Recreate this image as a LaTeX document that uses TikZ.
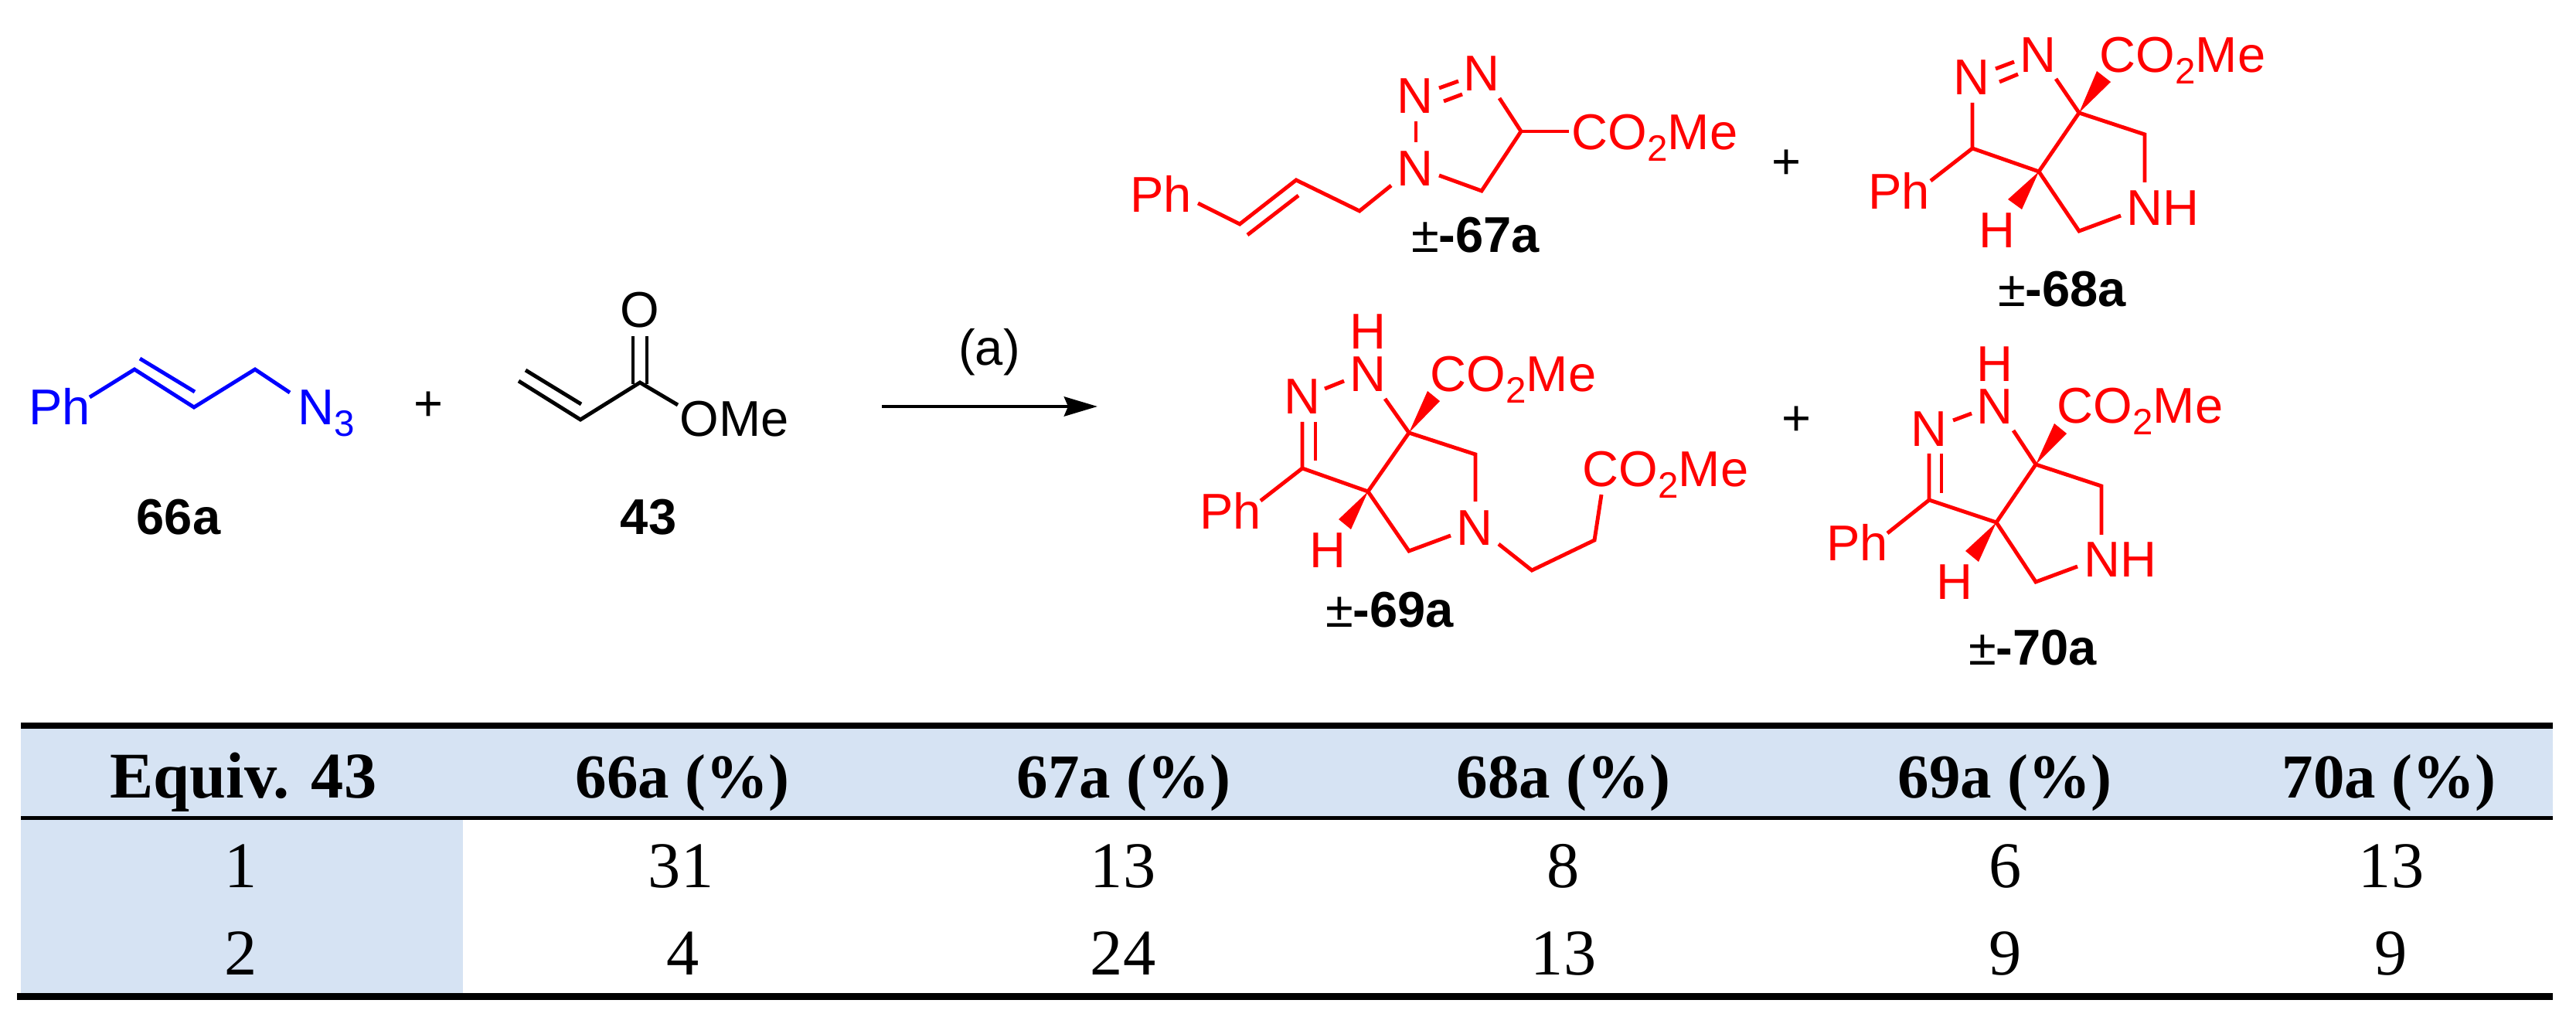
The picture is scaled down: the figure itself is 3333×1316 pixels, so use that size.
\documentclass[tikz,border=0pt]{standalone}
\usepackage{fontspec}
\setmainfont{Liberation Sans}
\newfontfamily\tablefont{Liberation Serif}
\usepackage{tikz}
\usetikzlibrary{arrows.meta}
\definecolor{azide}{RGB}{0, 0, 255}
\definecolor{product}{RGB}{255, 0, 0}
\definecolor{header}{RGB}{214, 227, 243}
\newcommand{\subnum}[1]{\raisebox{-4pt}{\fontsize{13.5}{14}\selectfont #1}}
\tikzset{
    atom/.style={inner sep=0pt, anchor=base, font=\fontsize{18.5}{20}\selectfont},
    blueatom/.style={atom, text=azide},
    redatom/.style={atom, text=product},
    bond/.style={line width=1.4pt, black},
    bluebond/.style={line width=1.4pt, azide},
    redbond/.style={line width=1.4pt, product},
    wedge/.style={fill=product},
    arrow/.style={line width=1.4pt,-{Stealth[length=0.43cm,width=0.25cm,inset=0.05cm]}},
    headcell/.style={inner sep=0pt, anchor=base, font=\tablefont\fontsize{23}{26}\selectfont\bfseries},
    tablecell/.style={inner sep=0pt, anchor=base, font=\tablefont\fontsize{24}{26}\selectfont},
    tablerule/.style={fill=black}
}
\begin{document}
\begin{tikzpicture}[x=0.01cm,y=-0.01cm]
    \useasboundingbox (0,0) rectangle (3333,1316);

    % Azide 66a
    \node[blueatom] (ph66) at (77,550) {Ph};
    \node[blueatom] (n66) at (422,550) {N\subnum{3}};
    \node[atom] (lab66) at (231,692) {\bfseries 66a};
    \coordinate (b66a) at (116,514); \coordinate (b66b) at (174,478); \coordinate (b66c) at (251,527); \coordinate (b66d) at (330,478); \coordinate (b66e) at (375,508);
    \coordinate (d66a) at (181,464); \coordinate (d66b) at (252,507);
    \draw[bluebond] (b66a) -- (b66b) -- (b66c) -- (b66d) -- (b66e);
    \draw[bluebond] (d66a) -- (d66b);
    \node[atom] (plus1) at (554,545) {+};

    % Acrylate 43
    \node[atom] (o43) at (828,424) {O};
    \node[atom] (ome43) at (950,565) {OMe};
    \node[atom] (lab43) at (839,692) {\bfseries 43};
    \coordinate (b43a) at (671,493); \coordinate (b43b) at (751,543); \coordinate (b43c) at (828,495); \coordinate (b43d) at (877,524);
    \coordinate (d43a) at (680,479); \coordinate (d43b) at (752,523);
    \coordinate (o43a) at (819,435); \coordinate (o43b) at (819,497); \coordinate (o43c) at (837,435); \coordinate (o43d) at (837,497);
    \draw[bond] (b43a) -- (b43b) -- (b43c) -- (b43d);
    \draw[bond] (d43a) -- (d43b);
    \draw[bond] (o43a) -- (o43b);
    \draw[bond] (o43c) -- (o43d);

    % Reaction arrow
    \coordinate (arrowstart) at (1141,526); \coordinate (arrowend) at (1420,526);
    \draw[arrow] (arrowstart) -- (arrowend);
    \node[atom] (cond) at (1280,473) {(a)};

    % Product 67a
    \node[redatom] (ph67) at (1502,275) {Ph};
    \node[redatom] (n67a) at (1831,241) {N};
    \node[redatom] (n67b) at (1831,147) {N};
    \node[redatom] (n67c) at (1917,118) {N};
    \node[redatom] (co67) at (2141,194) {CO\subnum{2}Me};
    \node[atom] (lab67) at (1909,327) {±\bfseries -67a};
    \coordinate (b67a) at (1550,263); \coordinate (b67b) at (1604,290); \coordinate (b67c) at (1677,233); \coordinate (b67d) at (1759,273); \coordinate (b67e) at (1800,240);
    \coordinate (d67a) at (1614,304); \coordinate (d67b) at (1680,253);
    \coordinate (s67a) at (1832,157); \coordinate (s67b) at (1832,184);
    \coordinate (e67a) at (1862,114); \coordinate (e67b) at (1887,105); \coordinate (f67a) at (1868,131); \coordinate (f67b) at (1892,122);
    \coordinate (r67a) at (1940,127); \coordinate (r67b) at (1968,170); \coordinate (r67c) at (1917,247); \coordinate (r67d) at (1862,227); \coordinate (r67e) at (2030,170);
    \draw[redbond] (b67a) -- (b67b) -- (b67c) -- (b67d) -- (b67e);
    \draw[redbond] (d67a) -- (d67b);
    \draw[redbond] (s67a) -- (s67b);
    \draw[redbond] (e67a) -- (e67b);
    \draw[redbond] (f67a) -- (f67b);
    \draw[redbond] (r67a) -- (r67b) -- (r67c) -- (r67d);
    \draw[redbond] (r67b) -- (r67e);
    \node[atom] (plus2) at (2311,232) {+};

    % Product 68a
    \node[redatom] (ph68) at (2457,271) {Ph};
    \node[redatom] (h68) at (2584,321) {H};
    \node[redatom] (nh68) at (2798,292) {NH};
    \node[redatom] (n68a) at (2551,123) {N};
    \node[redatom] (n68b) at (2637,94) {N};
    \node[redatom] (co68) at (2824,94) {CO\subnum{2}Me};
    \node[atom] (lab68) at (2668,397) {±\bfseries -68a};
    \coordinate (e68a) at (2582,89); \coordinate (e68b) at (2606,80); \coordinate (f68a) at (2587,106); \coordinate (f68b) at (2611,96);
    \coordinate (a68) at (2552,133); \coordinate (c68) at (2552,192); \coordinate (p68) at (2498,234);
    \coordinate (t68a) at (2690,146); \coordinate (t68b) at (2638,222); \coordinate (m68) at (2660,102);
    \coordinate (u68a) at (2775,174); \coordinate (u68b) at (2775,236); \coordinate (l68a) at (2690,299); \coordinate (l68b) at (2744,279);
    \coordinate (w68a) at (2713,92); \coordinate (w68b) at (2731,106); \coordinate (x68a) at (2598,258); \coordinate (x68b) at (2616,271);
    \draw[redbond] (e68a) -- (e68b);
    \draw[redbond] (f68a) -- (f68b);
    \draw[redbond] (a68) -- (c68) -- (t68b) -- (t68a) -- (m68);
    \draw[redbond] (c68) -- (p68);
    \draw[redbond] (t68a) -- (u68a) -- (u68b);
    \draw[redbond] (t68b) -- (l68a) -- (l68b);
    \fill[wedge] (t68a) -- (w68a) -- (w68b) -- cycle;
    \fill[wedge] (t68b) -- (x68a) -- (x68b) -- cycle;

    % Product 69a
    \node[redatom] (ph69) at (1592,685) {Ph};
    \node[redatom] (h69a) at (1770,452) {H};
    \node[redatom] (n69a) at (1770,507) {N};
    \node[redatom] (n69b) at (1685,536) {N};
    \node[redatom] (h69b) at (1718,735) {H};
    \node[redatom] (n69c) at (1908,706) {N};
    \node[redatom] (co69a) at (1958,507) {CO\subnum{2}Me};
    \node[redatom] (co69b) at (2155,630) {CO\subnum{2}Me};
    \node[atom] (lab69) at (1798,811) {±\bfseries -69a};
    \coordinate (e69a) at (1714,503); \coordinate (e69b) at (1739,493);
    \coordinate (g69a) at (1685,546); \coordinate (g69b) at (1702,546); \coordinate (g69c) at (1702,596);
    \coordinate (c69) at (1685,606); \coordinate (p69) at (1631,648);
    \coordinate (t69a) at (1823,560); \coordinate (t69b) at (1770,636); \coordinate (m69) at (1792,516);
    \coordinate (u69a) at (1909,588); \coordinate (u69b) at (1909,649); \coordinate (l69a) at (1823,713); \coordinate (l69b) at (1877,693);
    \coordinate (s69a) at (1939,704); \coordinate (s69b) at (1982,738); \coordinate (s69c) at (2063,699); \coordinate (s69d) at (2072,640);
    \coordinate (w69a) at (1847,506); \coordinate (w69b) at (1863,519); \coordinate (x69a) at (1732,672); \coordinate (x69b) at (1748,685);
    \draw[redbond] (e69a) -- (e69b);
    \draw[redbond] (g69a) -- (c69) -- (t69b) -- (t69a) -- (m69);
    \draw[redbond] (g69b) -- (g69c);
    \draw[redbond] (c69) -- (p69);
    \draw[redbond] (t69a) -- (u69a) -- (u69b);
    \draw[redbond] (t69b) -- (l69a) -- (l69b);
    \draw[redbond] (s69a) -- (s69b) -- (s69c) -- (s69d);
    \fill[wedge] (t69a) -- (w69a) -- (w69b) -- cycle;
    \fill[wedge] (t69b) -- (x69a) -- (x69b) -- cycle;
    \node[atom] (plus3) at (2324,564) {+};

    % Product 70a
    \node[redatom] (ph70) at (2403,726) {Ph};
    \node[redatom] (h70a) at (2581,494) {H};
    \node[redatom] (n70a) at (2581,549) {N};
    \node[redatom] (n70b) at (2496,578) {N};
    \node[redatom] (h70b) at (2529,776) {H};
    \node[redatom] (nh70) at (2743,747) {NH};
    \node[redatom] (co70) at (2769,548) {CO\subnum{2}Me};
    \node[atom] (lab70) at (2630,860) {±\bfseries -70a};
    \coordinate (e70a) at (2527,544); \coordinate (e70b) at (2551,535);
    \coordinate (g70a) at (2496,587); \coordinate (g70b) at (2512,587); \coordinate (g70c) at (2512,638);
    \coordinate (c70) at (2496,647); \coordinate (p70) at (2442,690);
    \coordinate (t70a) at (2634,601); \coordinate (t70b) at (2583,676); \coordinate (m70) at (2605,557);
    \coordinate (u70a) at (2719,629); \coordinate (u70b) at (2719,692); \coordinate (l70a) at (2634,753); \coordinate (l70b) at (2688,733);
    \coordinate (w70a) at (2658,548); \coordinate (w70b) at (2674,561); \coordinate (x70a) at (2543,713); \coordinate (x70b) at (2560,727);
    \draw[redbond] (e70a) -- (e70b);
    \draw[redbond] (g70a) -- (c70) -- (t70b) -- (t70a) -- (m70);
    \draw[redbond] (g70b) -- (g70c);
    \draw[redbond] (c70) -- (p70);
    \draw[redbond] (t70a) -- (u70a) -- (u70b);
    \draw[redbond] (t70b) -- (l70a) -- (l70b);
    \fill[wedge] (t70a) -- (w70a) -- (w70b) -- cycle;
    \fill[wedge] (t70b) -- (x70a) -- (x70b) -- cycle;

    % Table shading and rules
    \fill[header] (27,943) rectangle (3303,1056);
    \fill[header] (27,1061) rectangle (599,1285);
    \fill[tablerule] (27,935) rectangle (3303,943);
    \fill[tablerule] (27,1056) rectangle (3303,1061);
    \fill[tablerule] (22,1285) rectangle (3303,1294);

    % Table text
    \node[headcell, font=\tablefont\fontsize{24}{26}\selectfont\bfseries] (equiv) at (315,1032) {Equiv. 43};
    \node[headcell] (h66) at (883,1032) {66a (\%)};
    \node[headcell] (h67) at (1454,1032) {67a (\%)};
    \node[headcell] (h68) at (2023,1032) {68a (\%)};
    \node[headcell] (h69) at (2594,1032) {69a (\%)};
    \node[headcell] (h70) at (3091,1032) {70a (\%)};
    \node[tablecell] (r1a) at (312,1148) {1};
    \node[tablecell] (r1b) at (881,1148) {31};
    \node[tablecell] (r1c) at (1453,1148) {13};
    \node[tablecell] (r1d) at (2023,1148) {8};
    \node[tablecell] (r1e) at (2595,1148) {6};
    \node[tablecell] (r1f) at (3094,1148) {13};
    \node[tablecell] (r2a) at (312,1261) {2};
    \node[tablecell] (r2b) at (884,1261) {4};
    \node[tablecell] (r2c) at (1453,1261) {24};
    \node[tablecell] (r2d) at (2023,1261) {13};
    \node[tablecell] (r2e) at (2595,1261) {9};
    \node[tablecell] (r2f) at (3094,1261) {9};
\end{tikzpicture}
\end{document}
